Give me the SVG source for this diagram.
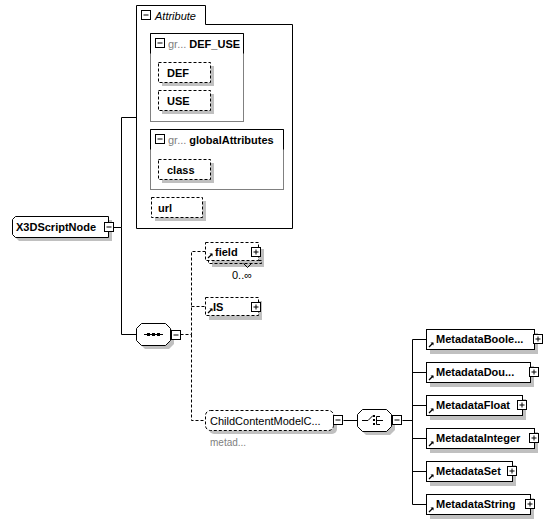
<svg xmlns="http://www.w3.org/2000/svg" width="553" height="523" viewBox="0 0 553 523">
<style>
.t{font-family:"Liberation Sans",Arial,sans-serif;font-size:11px;font-weight:bold;fill:#000}
.g{font-family:"Liberation Sans",Arial,sans-serif;font-size:11px;fill:#808080}
.it{font-family:"Liberation Sans",Arial,sans-serif;font-size:11px;font-style:italic;fill:#000}
.sm{font-family:"Liberation Sans",Arial,sans-serif;font-size:10px;fill:#808080}
.occ{font-family:"Liberation Sans",Arial,sans-serif;font-size:11px;fill:#000}
.box{fill:#fff;stroke:#000;stroke-width:1}
.dbox{fill:#fff;stroke:#000;stroke-width:1;stroke-dasharray:3,2}
.sh{fill:#c0c0c0}
.ln{fill:none;stroke:#000;stroke-width:1}
.dl{fill:none;stroke:#000;stroke-width:1;stroke-dasharray:3,2}
.icon{fill:#fff;stroke:#000;stroke-width:1}
.grp{fill:#fff;stroke:#808080;stroke-width:1}
</style>
<defs>
<g id="minus"><rect class="icon" x="0" y="0" width="9" height="9"/><path class="ln" d="M2,4.5H7"/></g>
<g id="plus"><rect class="icon" x="0" y="0" width="9" height="9"/><path class="ln" d="M2,4.5H7M4.5,2V7"/></g>
<g id="ref"><path d="M0,0L4,-4" stroke="#000" stroke-width="1.2"/><path d="M1.5,-4.5L4.5,-4.5L4.5,-1.5Z" fill="#000"/></g>
</defs>

<g id="connectors">
<path class="ln" d="M113.5,227.5H121.5V117.5H136.5M121.5,227.5V334.5H136.5"/>
<path class="dl" d="M180.5,334.5H191.5V251.5H205.5M191.5,306.5H205.5M191.5,334.5V420.5H205.5"/>
<path class="ln" d="M343.5,420.5H357.5M402.5,420.5H412.5M412.5,339.5V504.5M412.5,339.5H426.5M412.5,372.5H426.5M412.5,405.5H426.5M412.5,438.5H426.5M412.5,471.5H426.5M412.5,504.5H426.5"/>
</g>

<g id="Attribute">
<path class="box" d="M136.5,228.5V5.5H205.5V24.5H292.5V228.5Z"/>
<use href="#minus" x="141.5" y="10.5"/>
<text class="it" x="155" y="20">Attribute</text>
</g>

<g id="DEF_USE">
<rect class="grp" x="150.5" y="33.5" width="93" height="88"/>
<path class="ln" d="M150.5,53.5V33.5H243.5V53.5"/>
<use href="#minus" x="155.5" y="38.5"/>
<text x="168" y="48"><tspan class="g">gr...</tspan><tspan class="t" dx="3">DEF_USE</tspan></text>
</g>
<g id="DEF">
<rect class="sh" x="162" y="66" width="52" height="20"/>
<rect class="dbox" x="158.5" y="62.5" width="52" height="20"/>
<text class="t" x="167" y="77">DEF</text>
</g>
<g id="USE">
<rect class="sh" x="162" y="94" width="52" height="20"/>
<rect class="dbox" x="158.5" y="90.5" width="52" height="20"/>
<text class="t" x="167" y="105">USE</text>
</g>

<g id="globalAttributes">
<rect class="grp" x="150.5" y="129.5" width="133" height="60"/>
<path class="ln" d="M150.5,149.5V129.5H283.5V149.5"/>
<use href="#minus" x="155.5" y="134.5"/>
<text x="168" y="144"><tspan class="g">gr...</tspan><tspan class="t" dx="3">globalAttributes</tspan></text>
</g>
<g id="class">
<rect class="sh" x="162" y="163" width="52" height="20"/>
<rect class="dbox" x="158.5" y="159.5" width="52" height="20"/>
<text class="t" x="167" y="174">class</text>
</g>
<g id="url">
<rect class="sh" x="155" y="201" width="51" height="20"/>
<rect class="dbox" x="151.5" y="197.5" width="51" height="20"/>
<text class="t" x="158" y="212">url</text>
</g>

<g id="X3DScriptNode">
<path class="sh" d="M19,220H112V241H19L16,238V223Z"/>
<path class="box" d="M15.5,216.5H108.5V237.5H15.5L12.5,234.5V219.5Z"/>
<text class="t" x="16" y="231">X3DScriptNode</text>
<use href="#minus" x="104.5" y="222.5"/>
</g>

<g id="sequence">
<path class="sh" d="M145,327H169L174,332V344L169,349H145L140,344V332Z"/>
<path class="box" d="M141.5,323.5H165.5L170.5,328.5V340.5L165.5,345.5H141.5L136.5,340.5V328.5Z"/>
<path class="ln" d="M144,334.5H163"/>
<rect x="147" y="333" width="3" height="3" fill="#000"/>
<rect x="152" y="333" width="3" height="3" fill="#000"/>
<rect x="157" y="333" width="3" height="3" fill="#000"/>
<use href="#minus" x="171.5" y="330.5"/>
</g>

<g id="field">
<rect class="sh" x="212" y="249" width="52" height="18"/>
<path class="dl" d="M258.5,260.5H261.5V263.5H208.5V260.5"/>
<rect class="dbox" x="205.5" y="242.5" width="53" height="18"/>
<path class="ln" d="M243.5,263.5L247.5,267.5L251.5,263.5"/>
<use href="#ref" x="208" y="258"/>
<text class="t" x="215" y="256">field</text>
<use href="#plus" x="251.5" y="247.5"/>
<text class="occ" x="232" y="279">0..∞</text>
</g>

<g id="IS">
<rect class="sh" x="209" y="301" width="53" height="19"/>
<rect class="dbox" x="205.5" y="297.5" width="53" height="18"/>
<use href="#ref" x="208" y="313"/>
<text class="t" x="213" y="311">IS</text>
<use href="#plus" x="251.5" y="302.5"/>
</g>

<g id="ChildContentModelCore">
<rect class="sh" x="209" y="414" width="128" height="20" rx="5"/>
<rect class="dbox" x="205.5" y="410.5" width="128" height="20" rx="5"/>
<text x="210" y="425" style="font-family:'Liberation Sans',Arial,sans-serif;font-size:11px;fill:#000">ChildContentModelC...</text>
<use href="#minus" x="333.5" y="415.5"/>
<text class="sm" x="210" y="446">metad...</text>
</g>

<g id="choice">
<path class="sh" d="M366,413H390L395,418V430L390,435H366L361,430V418Z"/>
<path class="box" d="M362.5,409.5H386.5L391.5,414.5V426.5L386.5,431.5H362.5L357.5,426.5V414.5Z"/>
<path class="ln" d="M362,420.5H368L373,415.5M376.5,416.5V424.5M376.5,416.5H380M376.5,420.5H383M376.5,424.5H380"/>
<rect x="373" y="415" width="2" height="2" fill="#000"/>
<rect x="373" y="419" width="2" height="2" fill="#000"/>
<rect x="373" y="423" width="2" height="2" fill="#000"/>
<use href="#minus" x="392.5" y="415.5"/>
</g>

<g id="MetadataBoolean">
<rect class="sh" x="430" y="333" width="108" height="21"/>
<rect class="box" x="426.5" y="329.5" width="108" height="20"/>
<use href="#ref" x="429" y="347"/>
<text class="t" x="436" y="343">MetadataBoole...</text>
<use href="#plus" x="533.5" y="334.5"/>
</g>
<g id="MetadataDouble">
<rect class="sh" x="430" y="366" width="104" height="21"/>
<rect class="box" x="426.5" y="362.5" width="104" height="20"/>
<use href="#ref" x="429" y="380"/>
<text class="t" x="436" y="376">MetadataDou...</text>
<use href="#plus" x="529.5" y="367.5"/>
</g>
<g id="MetadataFloat">
<rect class="sh" x="430" y="399" width="96" height="21"/>
<rect class="box" x="426.5" y="395.5" width="96" height="20"/>
<use href="#ref" x="429" y="413"/>
<text class="t" x="436" y="409">MetadataFloat</text>
<use href="#plus" x="517.5" y="400.5"/>
</g>
<g id="MetadataInteger">
<rect class="sh" x="430" y="432" width="108" height="21"/>
<rect class="box" x="426.5" y="428.5" width="108" height="20"/>
<use href="#ref" x="429" y="446"/>
<text class="t" x="436" y="442">MetadataInteger</text>
<use href="#plus" x="529.5" y="433.5"/>
</g>
<g id="MetadataSet">
<rect class="sh" x="430" y="465" width="86" height="21"/>
<rect class="box" x="426.5" y="461.5" width="86" height="20"/>
<use href="#ref" x="429" y="479"/>
<text class="t" x="436" y="475">MetadataSet</text>
<use href="#plus" x="507.5" y="466.5"/>
</g>
<g id="MetadataString">
<rect class="sh" x="430" y="498" width="104" height="21"/>
<rect class="box" x="426.5" y="494.5" width="104" height="20"/>
<use href="#ref" x="429" y="512"/>
<text class="t" x="436" y="508">MetadataString</text>
<use href="#plus" x="525.5" y="499.5"/>
</g>
</svg>
